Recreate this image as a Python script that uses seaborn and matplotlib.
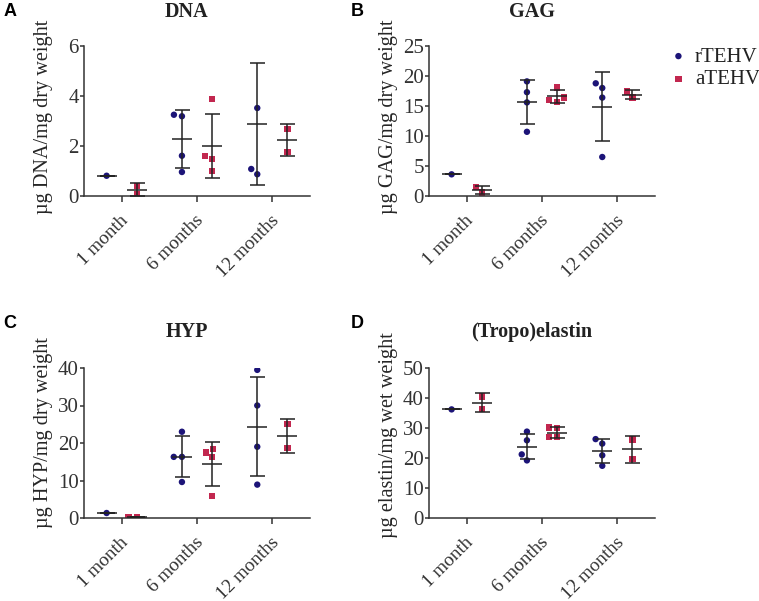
import numpy as np
import pandas as pd
import matplotlib
matplotlib.use("Agg")
import matplotlib.pyplot as plt
from matplotlib.transforms import ScaledTranslation
import seaborn as sns

times = ["1 month", "6 months", "12 months"]
groups = ["rTEHV", "aTEHV"]
colors = {"rTEHV": "#1c1478", "aTEHV": "#c2274f"}
markers = {"rTEHV": "o", "aTEHV": "s"}

# individual samples per time point
# DNA, 12 months rTEHV has a 4th value above the axis limit (off-scale)
dna_r = [[0.81], [3.19, 3.25, 1.61, 0.96], [3.52, 0.87, 1.08]]
dna_a = [[0.40, 0.08], [3.89, 1.61, 1.47, 1.01], [2.67, 1.76]]
dna_mean_r = [0.81, 2.27, 2.89]
dna_sd_r = [0.0, 1.15, 2.44]
dna_mean_a = [0.25, 1.99, 2.24]
dna_sd_a = [0.26, 1.29, 0.63]

gag_r = [[3.61], [19.1, 17.3, 15.6, 10.7], [18.0, 18.78, 16.4, 6.5]]
gag_a = [[0.56, 1.5], [18.07, 16.4, 16.0, 15.7], [16.4, 17.4]]
gag_mean_r = [3.61, 15.67, 14.89]
gag_sd_r = [0.0, 3.62, 5.7]
gag_mean_a = [1.0, 16.6, 16.9]
gag_sd_a = [0.64, 1.03, 0.7]

hyp_r = [[1.33], [23.0, 16.3, 16.3, 9.6], [39.5, 30.0, 19.0, 8.9]]
hyp_a = [[0.27, 0.18], [17.5, 16.2, 18.4, 5.87], [25.1, 18.7]]
hyp_mean_r = [1.33, 16.36, 24.36]
hyp_sd_r = [0.0, 5.5, 13.25]
hyp_mean_a = [0.22, 14.5, 21.96]
hyp_sd_a = [0.06, 5.87, 4.55]

ela_r = [[36.2], [28.8, 25.9, 21.2, 19.2], [24.8, 26.3, 20.9, 17.4]]
ela_a = [[40.5, 36.4], [30.2, 30.0, 27.0, 26.9], [26.2, 19.6]]
ela_mean_r = [36.2, 23.8, 22.35]
ela_sd_r = [0.0, 4.25, 3.95]
ela_mean_a = [38.5, 28.5, 22.9]
ela_sd_a = [3.2, 1.95, 4.45]

panels = [
    ("A", "DNA", "µg DNA/mg dry weight", 6, 2,
     dna_r, dna_a, dna_mean_r, dna_sd_r, dna_mean_a, dna_sd_a),
    ("B", "GAG", "µg GAG/mg dry weight", 25, 5,
     gag_r, gag_a, gag_mean_r, gag_sd_r, gag_mean_a, gag_sd_a),
    ("C", "HYP", "µg HYP/mg dry weight", 40, 10,
     hyp_r, hyp_a, hyp_mean_r, hyp_sd_r, hyp_mean_a, hyp_sd_a),
    ("D", "(Tropo)elastin", "µg elastin/mg wet weight", 50, 10,
     ela_r, ela_a, ela_mean_r, ela_sd_r, ela_mean_a, ela_sd_a),
]


def long_df(r, a):
    rows = []
    for g, vals in zip(groups, [r, a]):
        for t, vs in zip(times, vals):
            for v in vs:
                rows.append({"time": t, "group": g, "value": v})
    return pd.DataFrame(rows)


SERIF = ["Liberation Serif", "DejaVu Serif"]

sns.set_style("ticks")
plt.rcParams["font.family"] = SERIF
plt.rcParams["axes.edgecolor"] = "#333333"
plt.rcParams["xtick.color"] = "#333333"
plt.rcParams["ytick.color"] = "#333333"
plt.rcParams["text.color"] = "#222222"

W, H = 759, 601
fig = plt.figure(figsize=(W / 100, H / 100), dpi=100)

# axes boxes in pixels: left, top
boxes = [(84, 46), (429, 46), (84, 368), (429, 368)]
aw, ah = 226, 150
letter_pos = [(10, 12), (357, 12), (10, 323), (357, 323)]
title_off = [34, 34, 36, 36]
ylab_y = [0.53, 0.53, 0.57, 0.55]

legend_handles = []
for i, (letter, title, ylabel, ymax, step, r, a, mr, sr, ma, sa) in enumerate(panels):
    left, top = boxes[i]
    ax = fig.add_axes([left / W, 1 - (top + ah) / H, aw / W, ah / H])
    df = long_df(r, a)

    for g in groups:
        n0 = len(ax.collections)
        sns.swarmplot(data=df[df.group == g], x="time", y="value", hue="group",
                      order=times, hue_order=groups, dodge=True,
                      marker=markers[g], palette=colors, size=4.6,
                      linewidth=1.0, edgecolor="none", legend=False, ax=ax,
                      zorder=2)
        if i == 1:
            new = [c for c in ax.collections[n0:] if len(c.get_offsets())]
            legend_handles.append(new[0])

    # mean +/- SD
    for j, (m, s) in enumerate([(mr, sr), (ma, sa)]):
        xs = np.arange(len(times)) + (j - 0.5) * 0.4
        ax.errorbar(xs, m, yerr=s, fmt="_", ms=15, mew=1.1, color="#222222",
                    elinewidth=1.1, capsize=5.4, capthick=1.1, zorder=3)

    yt = list(range(0, ymax + 1, step))
    ax.set_xlim(-0.5, 2.5)
    ax.set_ylim(0, ymax)
    ax.set_yticks(yt)
    ax.set_yticklabels([str(v) for v in yt], fontfamily=SERIF)
    sns.despine(ax=ax)
    for sp in ["left", "bottom"]:
        ax.spines[sp].set_linewidth(1.1)
    ax.tick_params(axis="y", labelsize=15, length=3, width=1.1, pad=0.8)
    ax.tick_params(axis="x", labelsize=13.8, length=4.3, width=1.1, pad=7)
    ax.set_xticks(range(len(times)))
    ax.set_xticklabels(times, rotation=45, ha="right", va="top",
                       rotation_mode="anchor", fontfamily=SERIF)
    for lab in ax.get_xticklabels():
        lab.set_transform(lab.get_transform()
                          + ScaledTranslation(-2 / 100, 0, fig.dpi_scale_trans))
    ax.set_xlabel("")
    ax.set_ylabel(ylabel, fontsize=14.6, fontfamily=SERIF)
    ax.yaxis.set_label_coords(-31 / aw, ylab_y[i])

    ax.text(0.455, 1 + title_off[i] / ah, title, transform=ax.transAxes,
            ha="center", va="center", fontsize=14.5, fontweight="bold",
            fontfamily=SERIF)
    lx, ly = letter_pos[i]
    fig.text(lx / W, 1 - ly / H, letter, ha="center", va="center",
             fontsize=13, fontweight="bold", family="Liberation Sans",
             color="black")

fig.legend(legend_handles, groups, loc="upper left",
           bbox_to_anchor=(668 / W, 1 - 47 / H), frameon=False,
           handlelength=1.0, handletextpad=0.3,
           labelspacing=0.15, borderpad=0, borderaxespad=0,
           prop={"family": SERIF, "size": 15})

fig.savefig("out.png", dpi=100)
